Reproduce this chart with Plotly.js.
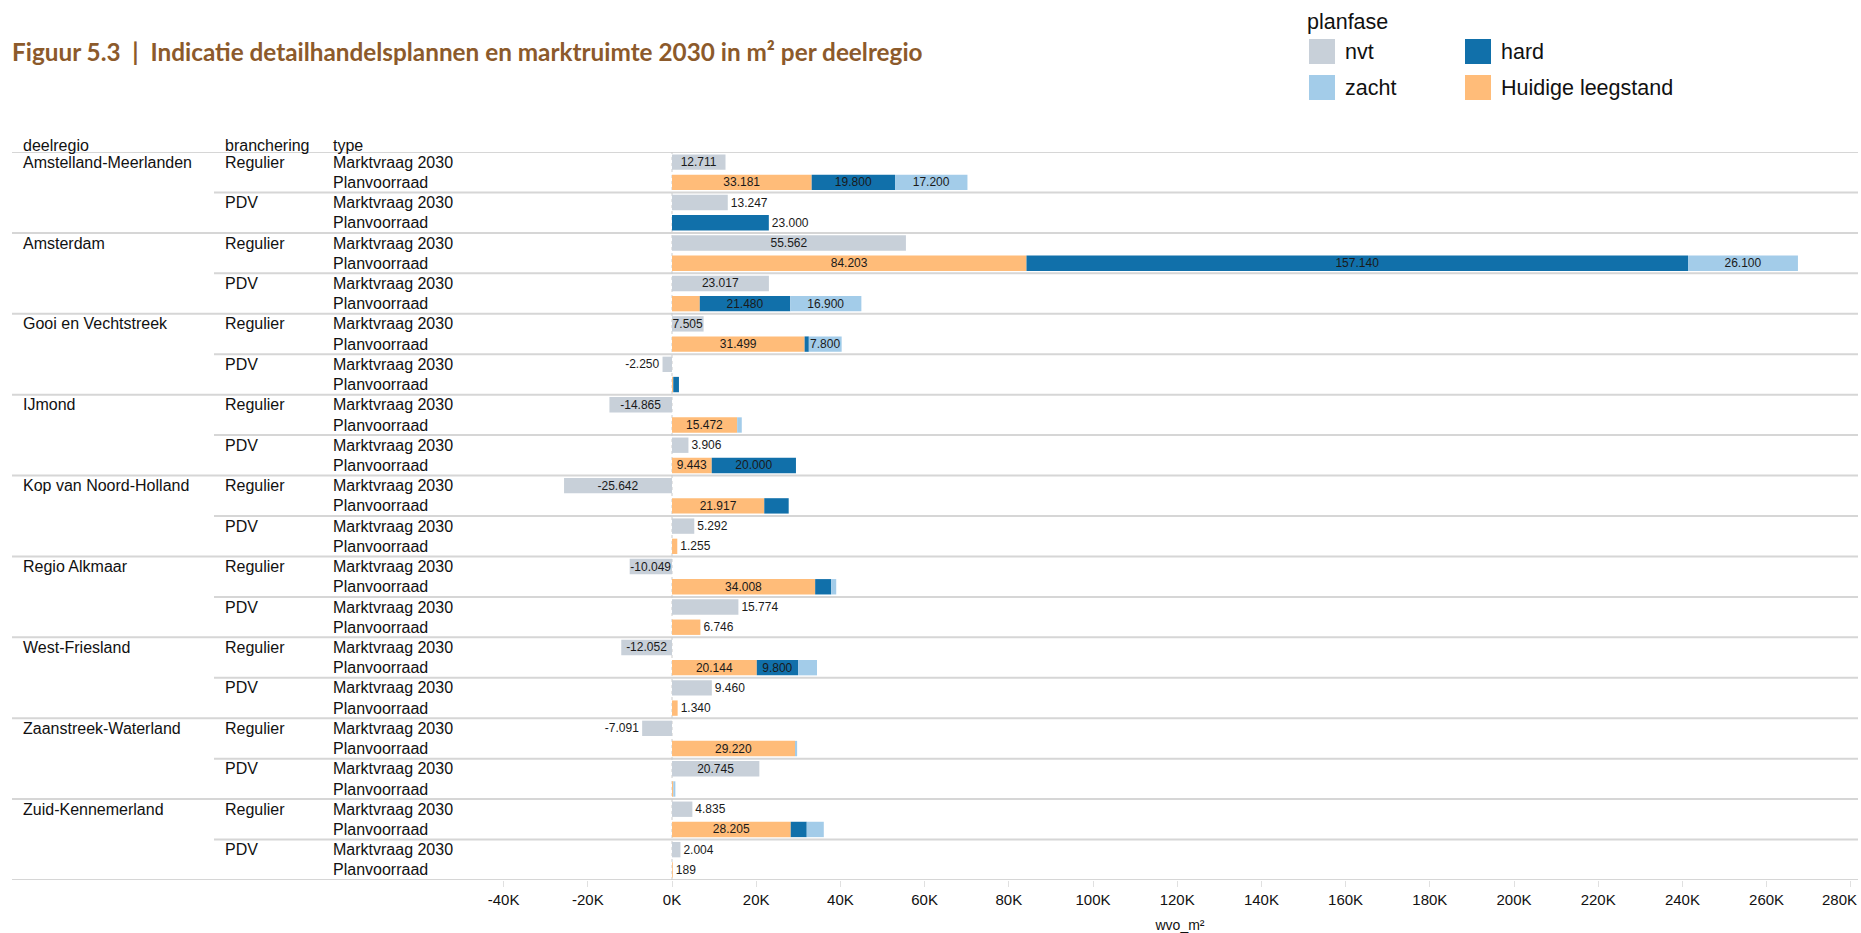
<!DOCTYPE html>
<html>
<head>
<meta charset="utf-8">
<script src="https://cdn.plot.ly/plotly-3.0.1.min.js"></script>
<style>
html,body{margin:0;padding:0;background:#ffffff;}
#chart{width:1861px;height:933px;}
</style>
</head>
<body>
<div id="chart"></div>
<script>
// ---------------- DATA ----------------
const regions = ['Amstelland-Meerlanden','Amsterdam','Gooi en Vechtstreek','IJmond','Kop van Noord-Holland','Regio Alkmaar','West-Friesland','Zaanstreek-Waterland','Zuid-Kennemerland'];
const branches = ['Regulier','PDV'];
const types = ['Marktvraag 2030','Planvoorraad'];
const seriesNames = ['nvt','zacht','hard','Huidige leegstand'];

// one value per region x branchering (Regulier, PDV)
const marktvraag = [12711,13247, 55562,23017, 7505,-2250, -14865,3906, -25642,5292, -10049,15774, -12052,9460, -7091,20745, 4835,2004];
const leegstand  = [33181,null, 84203,6600, 31499,300, 15472,9443, 21917,1255, 34008,6746, 20144,1340, 29220,300, 28205,189];
const hard       = [19800,23000, 157140,21480, 1000,1350, null,20000, 5800,null, 3800,null, 9800,null, null,null, 3800,null];
const zacht      = [17200,null, 26100,16900, 7800,null, 1100,null, null,null, 1200,null, 4500,null, 500,500, 4050,null];

const tickVals = [-40000,-20000,0,20000,40000,60000,80000,100000,120000,140000,160000,180000,200000,220000,240000,260000,280000];
const tickText = ['-40K','-20K','0K','20K','40K','60K','80K','100K','120K','140K','160K','180K','200K','220K','240K','260K','280K'];

// ---------------- STYLE ----------------
const colors = {'nvt':'#c8d0d9','zacht':'#a3cce9','hard':'#1170aa','Huidige leegstand':'#ffbc79'};
const posNvt   = ['inside','outside','inside','inside','inside','outside','inside','outside','inside','outside','inside','outside','inside','outside','outside','inside','outside','outside'];
const posLeeg  = ['inside','none','inside','none','inside','none','inside','inside','inside','outside','inside','outside','inside','outside','inside','none','inside','outside'];
const posHard  = ['inside','outside','inside','inside','none','none','none','inside','none','none','none','none','inside','none','none','none','none','none'];
const posZacht = ['inside','none','inside','inside','inside','none','none','none','none','none','none','none','none','none','none','none','none','none'];

const W = 1861, H = 933;
const M = {l:502, r:3, t:152, b:53};
const PW = W - M.l - M.r, PH = H - M.t - M.b;
const px2x = px => (px - M.l) / PW;
const py2y = py => (H - M.b - py) / PH;
const FONT = 'Liberation Sans, Arial, sans-serif';

// ---------------- ROWS ----------------
const rowIds = [];
const mvIds = [], pvIds = [];
regions.forEach((r) => branches.forEach((b) => types.forEach((t, ti) => {
  const id = r + ' | ' + b + ' | ' + t;
  rowIds.push(id);
  if (ti === 0) mvIds.push(id); else pvIds.push(id);
})));

const labelFont = {family: FONT, size: 12, color: '#1a1a1a'};
function barTrace(name, xs, ys, pos) {
  return {
    type: 'bar', orientation: 'h', name: name,
    x: xs, y: ys,
    marker: {color: colors[name], line: {width: 0}},
    texttemplate: '%{x:,}',
    textposition: pos,
    insidetextanchor: 'middle',
    textangle: 0,
    insidetextfont: labelFont,
    outsidetextfont: labelFont,
    constraintext: 'none',
    cliponaxis: false,
    showlegend: false,
    hoverinfo: 'x+y+name'
  };
}

const traces = [
  barTrace('nvt', marktvraag, mvIds, posNvt),
  barTrace('Huidige leegstand', leegstand, pvIds, posLeeg),
  barTrace('hard', hard, pvIds, posHard),
  barTrace('zacht', zacht, pvIds, posZacht)
];

// ---------------- ANNOTATIONS ----------------
const annotations = [];
const rowFont = {family: FONT, size: 16, color: '#111'};
const tickFont = {family: FONT, size: 15, color: '#111'};
function txt(text, x, y, yref, font, extra) {
  return Object.assign({text: text, x: x, y: y, xref: 'paper', yref: yref, xanchor: 'left', yanchor: 'middle', showarrow: false, font: font}, extra || {});
}
annotations.push(txt('deelregio', px2x(21), py2y(145), 'paper', rowFont));
annotations.push(txt('branchering', px2x(223), py2y(145), 'paper', rowFont));
annotations.push(txt('type', px2x(331), py2y(145), 'paper', rowFont));
regions.forEach((r, ri) => {
  annotations.push(txt(r, px2x(21), rowIds[ri * 4], 'y', rowFont));
  branches.forEach((b, bi) => {
    annotations.push(txt(b, px2x(223), rowIds[ri * 4 + bi * 2], 'y', rowFont));
    types.forEach((t, ti) => {
      annotations.push(txt(t, px2x(331), rowIds[ri * 4 + bi * 2 + ti], 'y', rowFont));
    });
  });
});

// last tick label sits against the right edge (right-aligned so it is not cut)
const lastTick = tickText.length - 1;
const shownTickText = tickText.map((t, i) => i === lastTick ? '' : t);
annotations.push(txt(tickText[lastTick], px2x(1859), py2y(900), 'paper', tickFont, {xanchor: 'right'}));

// Legend (drawn)
const legFont = {family: FONT, size: 21.5, color: '#111'};
annotations.push(txt('planfase', px2x(1305), py2y(22), 'paper', legFont));
const legItems = [
  {name: 'nvt', sx: 1309, sy: 39, tx: 1343, ty: 52},
  {name: 'zacht', sx: 1309, sy: 75, tx: 1343, ty: 88},
  {name: 'hard', sx: 1465, sy: 39, tx: 1499, ty: 52},
  {name: 'Huidige leegstand', sx: 1465, sy: 75, tx: 1499, ty: 88}
];
const shapes = [];
legItems.forEach(it => {
  shapes.push({type: 'rect', xref: 'paper', yref: 'paper', x0: px2x(it.sx), x1: px2x(it.sx + 26), y0: py2y(it.sy), y1: py2y(it.sy + 25), fillcolor: colors[it.name], line: {width: 0}});
  annotations.push(txt(it.name, px2x(it.tx), py2y(it.ty), 'paper', legFont));
});

// separators
for (let ri = 0; ri <= regions.length; ri++) {
  shapes.push({type: 'line', xref: 'paper', yref: 'y', x0: px2x(12), x1: 1, y0: ri * 4 - 0.5, y1: ri * 4 - 0.5, line: {color: '#d6d6d6', width: 2}, layer: 'below'});
  if (ri < regions.length) {
    shapes.push({type: 'line', xref: 'paper', yref: 'y', x0: px2x(214), x1: 1, y0: ri * 4 + 1.5, y1: ri * 4 + 1.5, line: {color: '#d6d6d6', width: 2}, layer: 'below'});
  }
}
// zero line
shapes.push({type: 'line', xref: 'x', yref: 'paper', x0: 0, x1: 0, y0: 0, y1: 1, line: {color: '#cccccc', width: 1, dash: 'dot'}, layer: 'below'});

const layout = {
  width: W, height: H,
  margin: M,
  paper_bgcolor: '#ffffff', plot_bgcolor: '#ffffff',
  separators: ',.',
  barmode: 'relative',
  bargap: 0.24,
  showlegend: false,
  font: {family: FONT, size: 14, color: '#111'},
  title: {
    text: 'Figuur 5.3  |  Indicatie detailhandelsplannen en marktruimte 2030 in m² per deelregio',
    x: 12 / W, xanchor: 'left', xref: 'container',
    y: 1 - 52 / H, yanchor: 'middle', yref: 'container',
    font: {family: 'Lato, sans-serif', size: 24.3, weight: 'bold', color: '#8c5a2b'}
  },
  xaxis: {
    range: [-40380, 281710],
    tickvals: tickVals, ticktext: shownTickText,
    ticks: 'outside', ticklen: 6, tickcolor: '#e0e0e0', tickwidth: 1,
    tickfont: tickFont,
    showgrid: false, zeroline: false, showline: false,
    automargin: false,
    title: {text: 'wvo_m²', font: {family: FONT, size: 14, color: '#111'}, standoff: 14},
    fixedrange: true
  },
  yaxis: {
    type: 'category', categoryorder: 'array', categoryarray: rowIds,
    range: [rowIds.length - 0.5, -0.5],
    showticklabels: false, showgrid: false, zeroline: false, showline: false, ticks: '',
    automargin: false, fixedrange: true
  },
  shapes: shapes,
  annotations: annotations
};

Plotly.newPlot('chart', traces, layout, {displayModeBar: false, staticPlot: true});
</script>
</body>
</html>
